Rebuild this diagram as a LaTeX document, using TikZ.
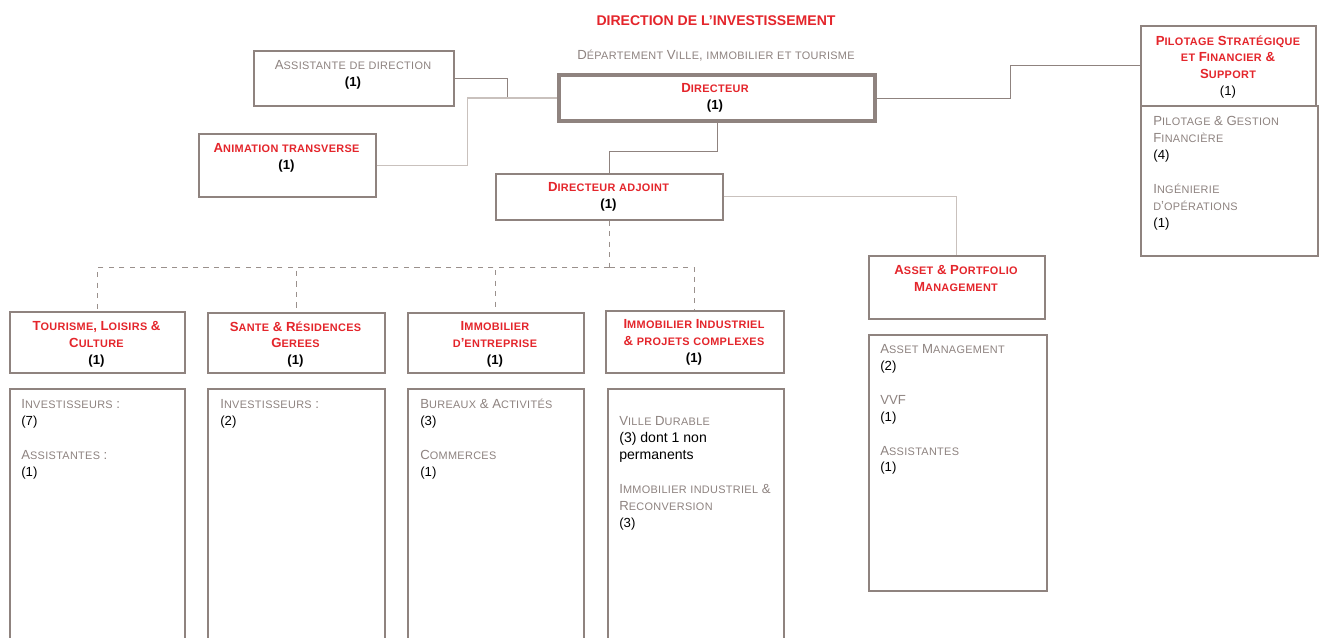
\documentclass[tikz,border=0pt]{standalone}
\usepackage{fontspec}
\setmainfont{Liberation Sans}
\definecolor{ored}{HTML}{E4252B}
\definecolor{tgray}{HTML}{8E8380}
\definecolor{boxgray}{HTML}{8F837F}
\definecolor{paleline}{HTML}{C9C1BD}
\definecolor{dashgray}{HTML}{9A908C}
\newcommand\scsmall{\fontsize{6.2}{9.64}\selectfont\addfontfeature{LetterSpace=3}}
\newcommand\numb[1]{\textcolor{black}{#1}}
\ExplSyntaxOn
\seq_new:N \l_fsc_words_seq
\bool_new:N \l_fsc_first_bool
\cs_new_protected:Npn \fsc_word:n #1
  {
    \tl_map_inline:nn {#1}
      {
        \str_if_eq:eeTF { \text_uppercase:n {##1} } { \exp_not:n {##1} }
          { ##1 }
          { { \scsmall \text_uppercase:n {##1} } }
      }
  }
\NewDocumentCommand \fsc { m }
  {
    \seq_set_split:Nnn \l_fsc_words_seq { ~ } {#1}
    \bool_set_true:N \l_fsc_first_bool
    \seq_map_inline:Nn \l_fsc_words_seq
      {
        \bool_if:NF \l_fsc_first_bool { ~ }
        \bool_set_false:N \l_fsc_first_bool
        \fsc_word:n {##1}
      }
  }
\ExplSyntaxOff
\tikzset{
  box/.style={draw=boxgray,line width=0.9pt,fill=white,anchor=north west,inner sep=0pt},
  bigbox/.style={box,line width=2.4pt},
  head/.style={anchor=north,align=center,inner sep=0pt,text=ored,font=\fontsize{7.5}{9.64}\selectfont\bfseries},
  plain/.style={anchor=north,align=center,inner sep=0pt,text=tgray,font=\fontsize{7.5}{9.64}\selectfont},
  list/.style={anchor=north west,align=left,inner sep=0pt,text=tgray,font=\fontsize{7.5}{9.64}\selectfont},
  link/.style={draw=boxgray,line width=0.6pt},
  pale/.style={draw=paleline,line width=0.8pt},
  dline/.style={draw=dashgray,line width=0.6pt,dashed},
}
\begin{document}
\begin{tikzpicture}[x=0.02cm,y=-0.02cm]
\clip (0,0) rectangle (1319,637);
\fill[white] (0,0) rectangle (1319,637);
\node[anchor=north,inner sep=0pt,text=ored,font=\fontsize{8}{10}\selectfont\bfseries] (title) at (716,15) {DIRECTION DE L’INVESTISSEMENT};
\node[plain] (dept) at (716,50) {\fsc{Département Ville, immobilier et tourisme}};
\node[box,minimum width=4cm,minimum height=1.1cm] (asst) at (253,50) {};
\node[bigbox,minimum width=6.32cm,minimum height=0.92cm] (dir) at (557,73) {};
\node[box,minimum width=3.5cm,minimum height=1.6cm] (pil) at (1140,25) {};
\node[box,minimum width=3.54cm,minimum height=3cm] (pilsub) at (1140,105) {};
\node[box,minimum width=3.54cm,minimum height=1.26cm] (anim) at (198,133) {};
\node[box,minimum width=4.54cm,minimum height=0.92cm] (adj) at (495,173) {};
\node[box,minimum width=3.52cm,minimum height=1.26cm] (asset) at (868,255) {};
\node[box,minimum width=3.56cm,minimum height=5.12cm] (assetsub) at (868,334) {};
\node[box,minimum width=3.5cm,minimum height=1.22cm] (tour) at (9,311) {};
\node[box,minimum width=3.54cm,minimum height=1.2cm] (sante) at (207,312) {};
\node[box,minimum width=3.52cm,minimum height=1.2cm] (immo) at (407,312) {};
\node[box,minimum width=3.56cm,minimum height=1.24cm] (indu) at (605,310) {};
\node[box,minimum width=3.5cm,minimum height=5.5cm] (toursub) at (9,388) {};
\node[box,minimum width=3.54cm,minimum height=5.5cm] (santesub) at (207,388) {};
\node[box,minimum width=3.52cm,minimum height=5.5cm] (immosub) at (407,388) {};
\node[box,minimum width=3.52cm,minimum height=5.5cm] (indusub) at (607,388) {};
\node[plain] (assttxt) at (353,60) {\fsc{Assistante de direction}\\\numb{\bfseries(1)}};
\node[head] (dirtxt) at (715,83) {\fsc{Directeur}\\\numb{(1)}};
\node[head] (piltxt) at (1228,35) {\fsc{Pilotage Stratégique}\\\fsc{et Financier \&}\\\fsc{Support}\\\numb{\mdseries(1)}};
\node[list] (pilsubtxt) at (1153,116) {\fsc{Pilotage \& Gestion}\\\fsc{Financière}\\\numb{(4)}\\[9.64pt]\fsc{Ingénierie}\\\fsc{d’opérations}\\\numb{(1)}};
\node[head] (animtxt) at (286.5,143) {\fsc{Animation transverse}\\\numb{(1)}};
\node[head] (adjtxt) at (608.5,182) {\fsc{Directeur adjoint}\\\numb{(1)}};
\node[head] (assettxt) at (956,265) {\fsc{Asset \& Portfolio}\\\fsc{Management}};
\node[list] (assetsubtxt) at (880,344) {\fsc{Asset Management}\\\numb{(2)}\\[9.64pt]\fsc{VVF}\\\numb{(1)}\\[9.64pt]\fsc{Assistantes}\\\numb{(1)}};
\node[head] (tourtxt) at (96.5,321) {\fsc{Tourisme, Loisirs \&}\\\fsc{Culture}\\\numb{(1)}};
\node[head] (santetxt) at (295.5,321) {\fsc{Sante \& Résidences}\\\fsc{Gerees}\\\numb{(1)}};
\node[head] (immotxt) at (495,321) {\fsc{Immobilier}\\\fsc{d’entreprise}\\\numb{(1)}};
\node[head] (industxt) at (694,319) {\fsc{Immobilier Industriel}\\\fsc{\& projets complexes}\\\numb{(1)}};
\node[list] (toursubtxt) at (21,399) {\fsc{Investisseurs :}\\\numb{(7)}\\[9.64pt]\fsc{Assistantes :}\\\numb{(1)}};
\node[list] (santesubtxt) at (220,399) {\fsc{Investisseurs :}\\\numb{(2)}};
\node[list] (immosubtxt) at (420,399) {\fsc{Bureaux \& Activités}\\\numb{(3)}\\[9.64pt]\fsc{Commerces}\\\numb{(1)}};
\node[list] (indusubtxt) at (619,416) {\fsc{Ville Durable}\\\numb{\fontsize{8}{9.64}\selectfont(3) dont 1 non}\\\numb{\fontsize{8}{9.64}\selectfont permanents}\\[9.64pt]\fsc{Immobilier industriel \&}\\\fsc{Reconversion}\\\numb{(3)}};
\draw[link] (asst.east) -- ++(53,0) |- (dir.west);
\draw[pale] (anim.east) -- ++(91,0) |- (dir.west);
\draw[link] (dir.east) -- ++(133,0) |- (pil.west);
\draw[link] (dir.south) -- ++(0,28) -| (adj.north);
\draw[pale] (adj.east) -| (asset.north);
\draw[dline] (adj.south) -- ++(0,47) coordinate (hub);
\foreach \b in {tour,sante,immo,indu}
  \draw[dline] (hub) -| (\b.north);
\end{tikzpicture}
\end{document}
